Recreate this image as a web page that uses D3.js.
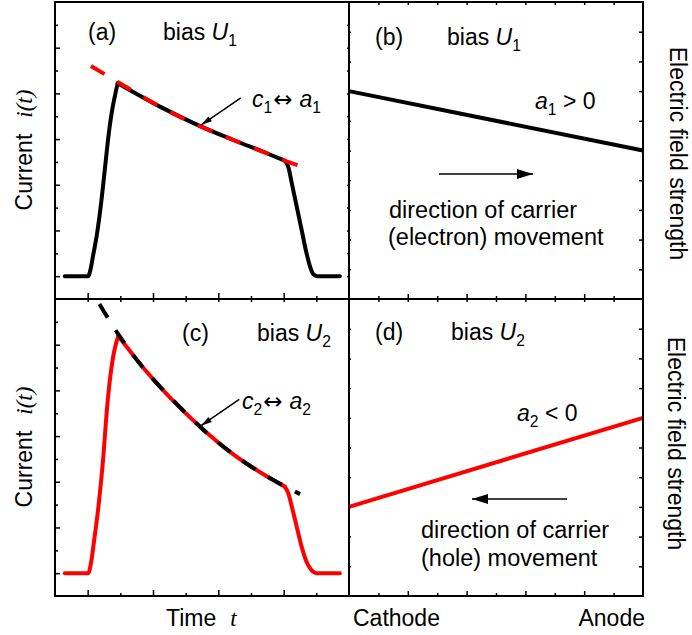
<!DOCTYPE html>
<html>
<head>
<meta charset="utf-8">
<script src="https://cdn.jsdelivr.net/npm/d3@7/dist/d3.min.js"></script>
<style>
  html, body { margin: 0; padding: 0; background: #fff; }
  svg { display: block; }
  text { font-family: "Liberation Sans", Arial, sans-serif; fill: #000; }
</style>
</head>
<body>
<script>
// ---- current transients i(t): [time, current] ----
const riseA  = [[0.30,1.00],[1.02,1.00],[1.07,1.19],[1.17,1.93],[1.28,2.80],[1.43,4.42],[1.53,5.73],[1.63,7.05],[1.74,8.19],[1.84,8.93],[1.92,9.44]];
const decayA = [[1.92,9.44],[3.21,8.42],[4.44,7.57],[5.46,6.96],[6.48,6.38],[7.04,6.05]];
const fallA  = [[7.04,6.05],[7.14,5.79],[7.25,5.06],[7.40,4.04],[7.55,3.02],[7.70,2.00],[7.81,1.41],[7.91,1.08],[8.03,1.00],[8.72,1.00]];
const fitA   = [[1.10,10.20],[1.92,9.50],[3.21,8.42],[4.44,7.57],[5.46,6.96],[6.48,6.38],[7.04,6.05],[7.58,5.79]];

const riseC  = [[0.30,1.00],[1.02,1.00],[1.10,1.43],[1.20,2.45],[1.33,3.91],[1.48,6.10],[1.58,8.00],[1.68,9.45],[1.78,10.47],[1.87,11.06],[1.94,11.38]];
const decayC = [[1.94,11.38],[2.76,9.89],[4.44,7.41],[5.46,6.20],[6.48,5.24],[7.04,4.78]];
const fallC  = [[7.04,4.78],[7.14,4.50],[7.25,3.91],[7.40,3.03],[7.55,2.16],[7.70,1.50],[7.81,1.21],[7.91,1.06],[8.01,1.00],[8.72,1.00]];
const fitC   = [[1.36,12.78],[1.94,11.45],[2.76,9.89],[4.44,7.41],[5.46,6.20],[6.48,5.24],[7.04,4.80],[7.50,4.46]];

// ---- electric field profiles across the detector: [position, field] ----
const fieldB = [[0,7.0],[10,5.0]];
const fieldD = [[0,3.0],[10,6.0]];

// ---- tick values ----
const timeMajor = [1,3,5,7], timeMinor = [2,4,6,8];
const curMajor = [1,3,5,7,9,11], curMinor = [2,4,6,8,10,12];
const posMajor = [2,4,6,8], posMinor = [1,3,5,7,9];
const fieldTicks = [1,2,3,4,5,6,7,8,9];
const posLabels = ["Cathode", "Anode"];

// ---- layout ----
const W = 692, H = 635;
const L = 55, M = 349, R = 643, T = 2, MID = 299, B = 596;

const svg = d3.select("body").append("svg").attr("width", W).attr("height", H);

const xT = d3.scaleLinear([0, 9], [L, M]);
const yA = d3.scaleLinear([0, 13], [MID, T]);
const yC = d3.scaleLinear([0, 13], [B, MID]);
const xP = d3.scaleLinear([0, 10], [M, R]);
const yB = d3.scaleLinear([0, 10], [MID, T]);
const yD = d3.scaleLinear([0, 10], [B, MID]);

// ---- tick marks (inward) ----
function ticks(axisFn, scale, values, size, tx, ty) {
  const g = svg.append("g").attr("transform", `translate(${tx},${ty})`)
    .call(axisFn(scale).tickValues(values).tickSize(size).tickSizeOuter(0).tickFormat(""));
  g.select(".domain").remove();
  g.selectAll(".tick line").attr("stroke", "#000").attr("stroke-width", 1.5);
}
// panel (a)
ticks(d3.axisLeft, yA, curMajor, -5, L, 0);
ticks(d3.axisLeft, yA, curMinor, -3, L, 0);
ticks(d3.axisBottom, xT, timeMajor, -6, 0, MID);
ticks(d3.axisBottom, xT, timeMinor, -3, 0, MID);
ticks(d3.axisRight, yA, curMajor.concat(curMinor), -2, M, 0);
// panel (c)
ticks(d3.axisLeft, yC, curMajor, -5, L, 0);
ticks(d3.axisLeft, yC, curMinor, -3, L, 0);
ticks(d3.axisBottom, xT, timeMajor, -6, 0, B);
ticks(d3.axisBottom, xT, timeMinor, -3, 0, B);
ticks(d3.axisTop, xT, timeMajor.concat(timeMinor), -3, 0, MID);
// panel (b)
ticks(d3.axisRight, yB, fieldTicks, -4, R, 0);
ticks(d3.axisLeft, yB, fieldTicks, -2, M, 0);
ticks(d3.axisTop, xP, posMajor.concat(posMinor), -3, 0, T);
ticks(d3.axisBottom, xP, posMajor, -5, 0, MID);
ticks(d3.axisBottom, xP, posMinor, -3, 0, MID);
// panel (d)
ticks(d3.axisRight, yD, fieldTicks, -4, R, 0);
ticks(d3.axisLeft, yD, fieldTicks, -2, M, 0);
ticks(d3.axisTop, xP, posMajor.concat(posMinor), -3, 0, MID);
ticks(d3.axisBottom, xP, posMajor, -5, 0, B);
ticks(d3.axisBottom, xP, posMinor, -3, 0, B);

// ---- curves ----
function curve(data, xs, ys, color, dash) {
  const line = d3.line().x(d => xs(d[0])).y(d => ys(d[1]))
    .curve(dash ? d3.curveCatmullRom : d3.curveMonotoneX);
  const p = svg.append("path").datum(data).attr("d", line)
    .attr("fill", "none").attr("stroke", color).attr("stroke-width", 4);
  if (dash) p.attr("stroke-dasharray", "16,14.5").attr("stroke-linecap", "butt");
  else p.attr("stroke-linecap", "round").attr("stroke-linejoin", "round");
}
[riseA, decayA, fallA].forEach(d => curve(d, xT, yA, "#000", false));
curve(fitA, xT, yA, "#ff0000", true);
[riseC, decayC, fallC].forEach(d => curve(d, xT, yC, "#ff0000", false));
curve(fitC, xT, yC, "#000", true);

const straight = d3.line();
svg.append("path").attr("d", straight(fieldB.map(d => [xP(d[0]), yB(d[1])])))
  .attr("stroke", "#000").attr("stroke-width", 4).attr("fill", "none");
svg.append("path").attr("d", straight(fieldD.map(d => [xP(d[0]), yD(d[1])])))
  .attr("stroke", "#ff0000").attr("stroke-width", 4).attr("fill", "none");

// ---- frame ----
const frame = [[L,T,R,T],[L,MID,R,MID],[L,B,R,B],[L,T,L,B],[M,T,M,B],[R,T,R,B]];
svg.append("g").selectAll("line").data(frame).join("line")
  .attr("x1", d => d[0]).attr("y1", d => d[1]).attr("x2", d => d[2]).attr("y2", d => d[3])
  .attr("stroke", "#000").attr("stroke-width", 2).attr("stroke-linecap", "square");

// ---- arrows ----
function arrow(x1, y1, x2, y2, headLen, headW, sw) {
  svg.append("line").attr("x1", x1).attr("y1", y1).attr("x2", x2).attr("y2", y2)
    .attr("stroke", "#000").attr("stroke-width", sw);
  const a = Math.atan2(y2 - y1, x2 - x1);
  const bx = x2 - headLen * Math.cos(a), by = y2 - headLen * Math.sin(a);
  const nx = -Math.sin(a) * headW / 2, ny = Math.cos(a) * headW / 2;
  svg.append("path").attr("d", `M${x2},${y2}L${bx + nx},${by + ny}L${bx - nx},${by - ny}Z`).attr("fill", "#000");
}
arrow(xT(5.69), yA(8.80), xT(4.44) + 1, yA(7.57) - 1, 11, 6, 1.5);
arrow(xT(5.64), yC(8.61), xT(4.44) + 1, yC(7.41) - 1, 11, 6, 1.5);
arrow(439, 174, 533, 174, 16, 10, 1.6);
arrow(567, 499, 472, 499, 16, 10, 1.6);

// ---- rich text helper ----
function rich(x, y, parts, size, opts = {}) {
  const t = svg.append("text").attr("x", x).attr("y", y).attr("font-size", size);
  if (opts.transform) t.attr("transform", opts.transform).attr("x", 0).attr("y", 0);
  if (opts.anchor) t.attr("text-anchor", opts.anchor);
  let down = false;
  parts.forEach(([s, k, dx]) => {
    const sp = t.append("tspan").text(s);
    if (dx) sp.attr("dx", dx);
    if (k === "s") {
      sp.attr("font-size", size * 0.68).attr("dy", down ? 0 : 6);
      down = true;
    } else {
      if (down) { sp.attr("dy", -6); down = false; }
      if (k === "i") sp.attr("font-style", "italic");
      if (k === "ti") sp.attr("font-style", "italic").attr("font-family", "'Liberation Serif', 'Times New Roman', serif");
      if (k === "sym") sp.attr("font-family", "'DejaVu Sans', sans-serif");
    }
  });
  return t;
}

const F = 23, FA = 23;
// panel (a)
rich(88, 40, [["(a)", "n"]], F);
rich(163, 40, [["bias ", "n"], ["U", "i"], ["1", "s"]], F);
rich(252, 107, [["c", "i"], ["1", "s"], ["\u2194", "sym", 1], ["a", "i", 7], ["1", "s"]], F);
// panel (b)
rich(375, 45, [["(b)", "n"]], F);
rich(447, 45, [["bias ", "n"], ["U", "i"], ["1", "s"]], F);
rich(535, 109, [["a", "i"], ["1", "s"], [" > 0", "n"]], F);
rich(389, 218, [["direction of carrier", "n"]], 23.5);
rich(388, 245, [["(electron) movement", "n"]], 23.5);
// panel (c)
rich(182, 341, [["(c)", "n"]], F);
rich(257, 341, [["bias ", "n"], ["U", "i"], ["2", "s"]], F);
rich(242, 409, [["c", "i"], ["2", "s"], ["\u2194", "sym", 1], ["a", "i", 7], ["2", "s"]], F);
// panel (d)
rich(375, 340, [["(d)", "n"]], F);
rich(451, 340, [["bias ", "n"], ["U", "i"], ["2", "s"]], F);
rich(517, 421, [["a", "i"], ["2", "s"], [" < 0", "n"]], F);
rich(421, 538, [["direction of carrier", "n"]], 23.5);
rich(421, 566, [["(hole) movement", "n"]], 23.5);

// axis titles
const currentTitle = [["Current", "n"], ["i", "ti", 16], ["(", "ti"], ["t", "ti"], [")", "ti"]];
rich(0, 0, currentTitle, FA, { transform: `translate(32,150) rotate(-90)`, anchor: "middle" });
rich(0, 0, currentTitle, FA, { transform: `translate(32,447) rotate(-90)`, anchor: "middle" });
rich(0, 0, [["Electric field strength", "n"]], FA,
  { transform: `translate(670,${(T + MID) / 2 + 3}) rotate(90)`, anchor: "middle" });
rich(0, 0, [["Electric field strength", "n"]], FA,
  { transform: `translate(668,${(MID + B) / 2 - 4}) rotate(90)`, anchor: "middle" });

rich(166, 626, [["Time", "n"], ["t", "ti", 14]], FA);
rich(353, 626, [[posLabels[0], "n"]], FA);
rich(645, 626, [[posLabels[1], "n"]], FA, { anchor: "end" });
</script>
</body>
</html>
